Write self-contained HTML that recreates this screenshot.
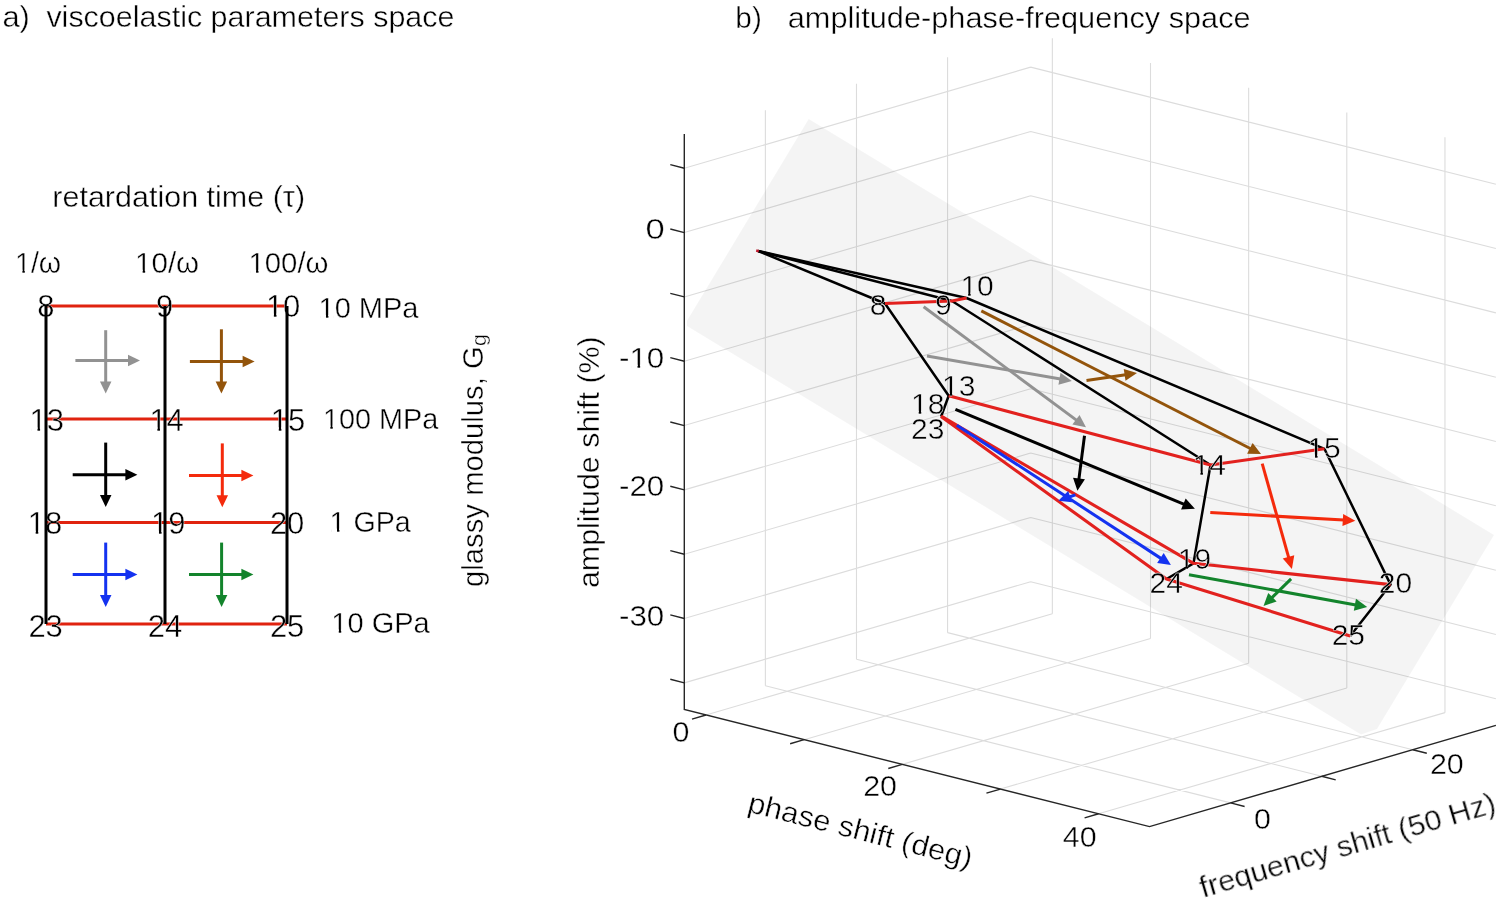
<!DOCTYPE html>
<html><head><meta charset="utf-8"><style>
html,body{margin:0;padding:0;background:#fff;overflow:hidden;width:1500px;height:902px;}
svg{display:block;will-change:transform;}
text{font-family:"Liberation Sans", sans-serif;stroke:#fff;stroke-width:0.4px;paint-order:normal;}
</style></head><body>
<svg width="1500" height="902" viewBox="0 0 1500 902">
<defs><mask id="m1" maskUnits="userSpaceOnUse" x="0" y="0" width="1500" height="902"><rect width="1500" height="902" fill="#fff"/><rect x="267.72" y="313.60" width="6.16" height="4.70" fill="#000"/><rect x="276.48" y="313.60" width="5.77" height="4.70" fill="#000"/><rect x="31.32" y="427.40" width="6.16" height="4.70" fill="#000"/><rect x="40.08" y="427.40" width="5.77" height="4.70" fill="#000"/><rect x="151.22" y="427.20" width="6.16" height="4.70" fill="#000"/><rect x="159.98" y="427.20" width="5.77" height="4.70" fill="#000"/><rect x="272.62" y="427.20" width="6.16" height="4.70" fill="#000"/><rect x="281.38" y="427.20" width="5.77" height="4.70" fill="#000"/><rect x="29.52" y="530.70" width="6.16" height="4.70" fill="#000"/><rect x="38.28" y="530.70" width="5.77" height="4.70" fill="#000"/><rect x="152.82" y="530.70" width="6.16" height="4.70" fill="#000"/><rect x="161.58" y="530.70" width="5.77" height="4.70" fill="#000"/><rect x="16.71" y="269.76" width="5.69" height="4.54" fill="#000"/><rect x="24.80" y="269.76" width="5.32" height="4.54" fill="#000"/><rect x="136.79" y="269.76" width="5.87" height="4.54" fill="#000"/><rect x="145.15" y="269.76" width="5.50" height="4.54" fill="#000"/><rect x="250.20" y="269.76" width="5.84" height="4.54" fill="#000"/><rect x="258.50" y="269.76" width="5.46" height="4.54" fill="#000"/><rect x="320.20" y="314.96" width="5.77" height="4.54" fill="#000"/><rect x="328.40" y="314.96" width="5.40" height="4.54" fill="#000"/><rect x="324.60" y="425.56" width="5.74" height="4.54" fill="#000"/><rect x="332.76" y="425.56" width="5.37" height="4.54" fill="#000"/><rect x="331.30" y="528.56" width="5.70" height="4.54" fill="#000"/><rect x="339.40" y="528.56" width="5.33" height="4.54" fill="#000"/><rect x="333.00" y="629.36" width="5.77" height="4.54" fill="#000"/><rect x="341.22" y="629.36" width="5.40" height="4.54" fill="#000"/><rect x="631.28" y="364.76" width="6.23" height="4.54" fill="#000"/><rect x="640.14" y="364.76" width="5.83" height="4.54" fill="#000"/><rect x="962.16" y="292.58" width="5.96" height="4.62" fill="#000"/><rect x="970.64" y="292.58" width="5.58" height="4.62" fill="#000"/><rect x="943.76" y="392.88" width="5.96" height="4.62" fill="#000"/><rect x="952.24" y="392.88" width="5.58" height="4.62" fill="#000"/><rect x="912.76" y="410.78" width="5.96" height="4.62" fill="#000"/><rect x="921.24" y="410.78" width="5.58" height="4.62" fill="#000"/><rect x="1194.46" y="471.28" width="5.96" height="4.62" fill="#000"/><rect x="1202.94" y="471.28" width="5.58" height="4.62" fill="#000"/><rect x="1309.06" y="454.48" width="5.96" height="4.62" fill="#000"/><rect x="1317.54" y="454.48" width="5.58" height="4.62" fill="#000"/><rect x="1179.56" y="565.78" width="5.96" height="4.62" fill="#000"/><rect x="1188.04" y="565.78" width="5.58" height="4.62" fill="#000"/></mask></defs>
<rect width="1500" height="902" fill="#fff"/>
<path d="M765.38 685.83L765.38 110.37 M856.48 659.23L856.48 83.77 M947.58 632.63L947.58 57.17 M684.30 168.27L1030.66 67.14 M684.30 232.59L1030.66 131.46 M684.30 296.92L1030.66 195.79 M684.30 361.24L1030.66 260.11 M684.30 425.57L1030.66 324.44 M684.30 489.89L1030.66 388.76 M684.30 554.22L1030.66 453.09 M684.30 618.54L1030.66 517.41 M684.30 682.87L1030.66 581.74 M1052.35 613.83L1052.35 38.37 M1150.50 638.53L1150.50 63.07 M1248.65 663.23L1248.65 87.77 M1346.80 687.93L1346.80 112.47 M1444.95 712.63L1444.95 137.17 M1030.66 67.14L1495.89 184.21 M1030.66 131.46L1495.89 248.54 M1030.66 195.79L1495.89 312.86 M1030.66 260.11L1495.89 377.19 M1030.66 324.44L1495.89 441.51 M1030.66 388.76L1495.89 505.84 M1030.66 453.09L1495.89 570.16 M1030.66 517.41L1495.89 634.49 M1030.66 581.74L1495.89 698.81 M705.99 714.96L1052.35 613.83 M804.14 739.66L1150.50 638.53 M902.29 764.36L1248.65 663.23 M1000.44 789.06L1346.80 687.93 M1098.59 813.76L1444.95 712.63 M765.38 685.83L1230.61 802.90 M856.48 659.23L1321.71 776.30 M947.58 632.63L1412.81 749.70" stroke="#dcdcdc" stroke-width="1.1" fill="none"/>
<polygon points="808.7,119.0 1494.0,535.0 1377.0,729.0 1361.0,734.6 687.0,326.0 687.0,320.8" fill="#000" fill-opacity="0.045"/>
<path d="M684.30 134.05L684.30 709.50L1149.53 826.58L1495.89 725.44" stroke="#262626" stroke-width="1.4" fill="none"/>
<path d="M684.30 168.27l-14 -3.6 M684.30 232.59l-14 -3.6 M684.30 296.92l-14 -3.6 M684.30 361.24l-14 -3.6 M684.30 425.57l-14 -3.6 M684.30 489.89l-14 -3.6 M684.30 554.22l-14 -3.6 M684.30 618.54l-14 -3.6 M684.30 682.87l-14 -3.6 M705.99 714.96l-14 4.1 M804.14 739.66l-14 4.1 M902.29 764.36l-14 4.1 M1000.44 789.06l-14 4.1 M1098.59 813.76l-14 4.1 M1230.61 802.90l14 3.6 M1321.71 776.30l14 3.6 M1412.81 749.70l14 3.6" stroke="#262626" stroke-width="1.4" fill="none"/>
<polyline points="758.20,251.00 885.00,303.50" stroke="#000" stroke-width="2.5" fill="none" stroke-linejoin="round"/>
<polyline points="758.20,251.00 952.00,301.00" stroke="#000" stroke-width="2.5" fill="none" stroke-linejoin="round"/>
<polyline points="758.20,251.00 966.50,298.00" stroke="#000" stroke-width="2.5" fill="none" stroke-linejoin="round"/>
<polyline points="885.00,303.50 948.70,395.80 941.20,416.20 941.00,416.60" stroke="#000" stroke-width="2.5" fill="none" stroke-linejoin="round"/>
<polyline points="952.00,301.00 1210.50,465.00 1193.50,563.30 1166.50,579.00" stroke="#000" stroke-width="2.5" fill="none" stroke-linejoin="round"/>
<polyline points="966.50,298.00 1324.40,448.80 1390.60,584.60 1350.20,636.00" stroke="#000" stroke-width="2.5" fill="none" stroke-linejoin="round"/>
<polyline points="885.00,303.50 952.00,301.00 966.50,298.00" stroke="#e2211e" stroke-width="3.1" fill="none" stroke-linejoin="round"/>
<polyline points="948.70,395.80 1210.50,465.00 1324.40,448.80" stroke="#e2211e" stroke-width="3.1" fill="none" stroke-linejoin="round"/>
<polyline points="941.20,416.20 1193.50,563.30 1390.60,584.60" stroke="#e2211e" stroke-width="3.1" fill="none" stroke-linejoin="round"/>
<polyline points="941.00,416.60 1166.50,579.00 1350.20,636.00" stroke="#e2211e" stroke-width="3.1" fill="none" stroke-linejoin="round"/>
<line x1="756.2" y1="250.5" x2="758.8000000000001" y2="251.2" stroke="#c0182c" stroke-width="2.6"/>
<line x1="927.00" y1="356.00" x2="1060.47" y2="378.95" stroke="#929292" stroke-width="3.0"/><polygon points="1071.80,380.90 1058.46,384.69 1060.50,372.87" fill="#929292"/>
<line x1="923.60" y1="306.70" x2="1076.76" y2="420.35" stroke="#929292" stroke-width="3.0"/><polygon points="1086.00,427.20 1072.39,424.57 1079.54,414.93" fill="#929292"/>
<line x1="981.30" y1="310.80" x2="1250.76" y2="448.76" stroke="#93540b" stroke-width="3.0"/><polygon points="1261.00,454.00 1247.14,453.64 1252.61,442.96" fill="#93540b"/>
<line x1="1086.50" y1="380.50" x2="1125.62" y2="374.77" stroke="#93540b" stroke-width="3.0"/><polygon points="1137.00,373.10 1125.50,380.85 1123.76,368.98" fill="#93540b"/>
<line x1="955.40" y1="409.40" x2="1184.28" y2="504.39" stroke="#000" stroke-width="3.0"/><polygon points="1194.90,508.80 1181.05,509.55 1185.65,498.47" fill="#000"/>
<line x1="1084.50" y1="435.80" x2="1078.87" y2="479.39" stroke="#000" stroke-width="3.0"/><polygon points="1077.40,490.80 1073.05,477.63 1084.95,479.17" fill="#000"/>
<line x1="1262.20" y1="463.60" x2="1288.78" y2="557.93" stroke="#f42a0c" stroke-width="3.0"/><polygon points="1291.90,569.00 1282.73,558.60 1294.28,555.34" fill="#f42a0c"/>
<line x1="1210.30" y1="512.50" x2="1343.82" y2="520.05" stroke="#f42a0c" stroke-width="3.0"/><polygon points="1355.30,520.70 1342.48,525.98 1343.16,514.00" fill="#f42a0c"/>
<line x1="956.80" y1="425.20" x2="1161.27" y2="558.62" stroke="#1432f0" stroke-width="3.0"/><polygon points="1170.90,564.90 1157.15,563.09 1163.71,553.04" fill="#1432f0"/>
<line x1="1075.40" y1="494.90" x2="1069.19" y2="497.01" stroke="#1432f0" stroke-width="3.0"/><polygon points="1058.30,500.70 1068.21,491.00 1072.06,502.37" fill="#1432f0"/>
<line x1="1189.00" y1="574.70" x2="1355.88" y2="604.95" stroke="#13842c" stroke-width="3.0"/><polygon points="1367.20,607.00 1353.83,610.67 1355.97,598.87" fill="#13842c"/>
<line x1="1291.10" y1="578.90" x2="1271.71" y2="597.94" stroke="#13842c" stroke-width="3.0"/><polygon points="1263.50,606.00 1268.22,592.96 1276.62,601.52" fill="#13842c"/>
<line x1="46.0" y1="306.0" x2="287.0" y2="306.0" stroke="#e0230f" stroke-width="3.2"/>
<line x1="46.0" y1="419.0" x2="287.0" y2="419.0" stroke="#e0230f" stroke-width="3.2"/>
<line x1="46.0" y1="522.5" x2="287.0" y2="522.5" stroke="#e0230f" stroke-width="3.2"/>
<line x1="46.0" y1="624.0" x2="287.0" y2="624.0" stroke="#e0230f" stroke-width="3.2"/>
<g mask="url(#m1)"><text x="37.20" y="317.10" font-size="31" textLength="17.23" lengthAdjust="spacingAndGlyphs" fill="#000">8</text>
<text x="156.00" y="317.10" font-size="31" textLength="17.23" lengthAdjust="spacingAndGlyphs" fill="#000">9</text>
<text x="265.90" y="317.10" font-size="31" textLength="34.47" lengthAdjust="spacingAndGlyphs" fill="#000">10</text>
<text x="29.50" y="430.90" font-size="31" textLength="34.47" lengthAdjust="spacingAndGlyphs" fill="#000">13</text>
<text x="149.40" y="430.70" font-size="31" textLength="34.47" lengthAdjust="spacingAndGlyphs" fill="#000">14</text>
<text x="270.80" y="430.70" font-size="31" textLength="34.47" lengthAdjust="spacingAndGlyphs" fill="#000">15</text>
<text x="27.70" y="534.20" font-size="31" textLength="34.47" lengthAdjust="spacingAndGlyphs" fill="#000">18</text>
<text x="151.00" y="534.20" font-size="31" textLength="34.47" lengthAdjust="spacingAndGlyphs" fill="#000">19</text>
<text x="269.90" y="534.20" font-size="31" textLength="34.47" lengthAdjust="spacingAndGlyphs" fill="#000">20</text>
<text x="28.40" y="636.80" font-size="31" textLength="34.47" lengthAdjust="spacingAndGlyphs" fill="#000">23</text>
<text x="147.80" y="636.80" font-size="31" textLength="34.47" lengthAdjust="spacingAndGlyphs" fill="#000">24</text>
<text x="269.90" y="636.80" font-size="31" textLength="34.47" lengthAdjust="spacingAndGlyphs" fill="#000">25</text></g>
<line x1="46.0" y1="306.0" x2="46.0" y2="624.0" stroke="#000" stroke-width="3"/>
<line x1="165.0" y1="306.0" x2="165.0" y2="624.0" stroke="#000" stroke-width="3"/>
<line x1="287.0" y1="306.0" x2="287.0" y2="624.0" stroke="#000" stroke-width="3"/>
<line x1="75.40" y1="360.50" x2="129.00" y2="360.50" stroke="#929292" stroke-width="3.0"/><polygon points="140.00,360.50 128.00,366.25 128.00,354.75" fill="#929292"/>
<line x1="105.70" y1="330.20" x2="105.70" y2="382.50" stroke="#929292" stroke-width="3.0"/><polygon points="105.70,393.50 99.95,381.50 111.45,381.50" fill="#929292"/>
<line x1="189.90" y1="361.40" x2="243.60" y2="361.40" stroke="#93540b" stroke-width="3.0"/><polygon points="254.60,361.40 242.60,367.15 242.60,355.65" fill="#93540b"/>
<line x1="221.40" y1="329.30" x2="221.40" y2="382.60" stroke="#93540b" stroke-width="3.0"/><polygon points="221.40,393.60 215.65,381.60 227.15,381.60" fill="#93540b"/>
<line x1="72.70" y1="474.80" x2="126.40" y2="474.80" stroke="#000" stroke-width="3.0"/><polygon points="137.40,474.80 125.40,480.55 125.40,469.05" fill="#000"/>
<line x1="105.70" y1="442.60" x2="105.70" y2="495.90" stroke="#000" stroke-width="3.0"/><polygon points="105.70,506.90 99.95,494.90 111.45,494.90" fill="#000"/>
<line x1="189.00" y1="475.40" x2="242.40" y2="475.40" stroke="#f42a0c" stroke-width="3.0"/><polygon points="253.40,475.40 241.40,481.15 241.40,469.65" fill="#f42a0c"/>
<line x1="222.30" y1="443.40" x2="222.30" y2="496.30" stroke="#f42a0c" stroke-width="3.0"/><polygon points="222.30,507.30 216.55,495.30 228.05,495.30" fill="#f42a0c"/>
<line x1="72.70" y1="574.50" x2="126.40" y2="574.50" stroke="#1432f0" stroke-width="3.0"/><polygon points="137.40,574.50 125.40,580.25 125.40,568.75" fill="#1432f0"/>
<line x1="105.70" y1="542.60" x2="105.70" y2="595.90" stroke="#1432f0" stroke-width="3.0"/><polygon points="105.70,606.90 99.95,594.90 111.45,594.90" fill="#1432f0"/>
<line x1="189.00" y1="574.50" x2="242.40" y2="574.50" stroke="#13842c" stroke-width="3.0"/><polygon points="253.40,574.50 241.40,580.25 241.40,568.75" fill="#13842c"/>
<line x1="221.60" y1="542.60" x2="221.60" y2="595.90" stroke="#13842c" stroke-width="3.0"/><polygon points="221.60,606.90 215.85,594.90 227.35,594.90" fill="#13842c"/>
<g mask="url(#m1)">
<text x="2.43" y="27.20" font-size="29" textLength="27.46" lengthAdjust="spacingAndGlyphs" fill="#000" >a)</text>
<text x="46.40" y="27.20" font-size="29" textLength="408.08" lengthAdjust="spacingAndGlyphs" fill="#000" >viscoelastic parameters space</text>
<text x="52.30" y="207.40" font-size="29" textLength="252.77" lengthAdjust="spacingAndGlyphs" fill="#000" >retardation time (τ)</text>
<text x="15.03" y="273.10" font-size="29" textLength="46.17" lengthAdjust="spacingAndGlyphs" fill="#000" >1/ω</text>
<text x="135.06" y="273.10" font-size="29" textLength="64.13" lengthAdjust="spacingAndGlyphs" fill="#000" >10/ω</text>
<text x="248.48" y="273.10" font-size="29" textLength="80.03" lengthAdjust="spacingAndGlyphs" fill="#000" >100/ω</text>
<text x="318.50" y="318.30" font-size="29" textLength="99.94" lengthAdjust="spacingAndGlyphs" fill="#000" >10 MPa</text>
<text x="322.91" y="428.90" font-size="29" textLength="115.45" lengthAdjust="spacingAndGlyphs" fill="#000" >100 MPa</text>
<text x="329.62" y="531.90" font-size="29" textLength="81.19" lengthAdjust="spacingAndGlyphs" fill="#000" >1 GPa</text>
<text x="331.30" y="632.70" font-size="29" textLength="98.45" lengthAdjust="spacingAndGlyphs" fill="#000" >10 GPa</text>
<g transform="translate(483.20,586.00) rotate(-90.000)"><text x="-0.98" y="0" font-size="30" textLength="240.77" lengthAdjust="spacingAndGlyphs" fill="#000">glassy modulus, G</text></g>
<g transform="translate(486.00,345.00) rotate(-90.000)"><text x="-1.07" y="0" font-size="20" textLength="11.87" lengthAdjust="spacingAndGlyphs" fill="#000">g</text></g>
<text x="735.35" y="27.80" font-size="29" textLength="26.48" lengthAdjust="spacingAndGlyphs" fill="#000" >b)</text>
<text x="787.74" y="27.80" font-size="29" textLength="462.92" lengthAdjust="spacingAndGlyphs" fill="#000" >amplitude-phase-frequency space</text>
<text x="645.41" y="238.90" font-size="29" textLength="19.23" lengthAdjust="spacingAndGlyphs" fill="#000" >0</text>
<text x="619.02" y="368.10" font-size="29" textLength="45.26" lengthAdjust="spacingAndGlyphs" fill="#000" >-10</text>
<text x="619.02" y="496.20" font-size="29" textLength="45.26" lengthAdjust="spacingAndGlyphs" fill="#000" >-20</text>
<text x="619.02" y="625.70" font-size="29" textLength="45.26" lengthAdjust="spacingAndGlyphs" fill="#000" >-30</text>
<text x="672.60" y="741.50" font-size="29" textLength="16.93" lengthAdjust="spacingAndGlyphs" fill="#000">0</text>
<text x="863.20" y="796.40" font-size="29" textLength="33.86" lengthAdjust="spacingAndGlyphs" fill="#000">20</text>
<text x="1062.80" y="847.00" font-size="29" textLength="33.86" lengthAdjust="spacingAndGlyphs" fill="#000">40</text>
<text x="1254.10" y="829.30" font-size="29" textLength="16.93" lengthAdjust="spacingAndGlyphs" fill="#000">0</text>
<text x="1429.90" y="773.70" font-size="29" textLength="33.86" lengthAdjust="spacingAndGlyphs" fill="#000">20</text>
<g transform="translate(599.00,587.00) rotate(-90.000)"><text x="-1.05" y="0" font-size="29" textLength="251.78" lengthAdjust="spacingAndGlyphs" fill="#000">amplitude shift (%)</text></g>
<g transform="translate(748.50,812.00) rotate(14.200)"><text x="-2.13" y="0" font-size="29" textLength="230.26" lengthAdjust="spacingAndGlyphs" fill="#000">phase shift (deg)</text></g>
<g transform="translate(1203.00,898.00) rotate(-16.300)"><text x="-0.00" y="0" font-size="29" textLength="306.81" lengthAdjust="spacingAndGlyphs" fill="#000">frequency shift (50 Hz)</text></g>
<text x="869.80" y="314.90" font-size="30" textLength="16.69" lengthAdjust="spacingAndGlyphs" fill="#000">8</text>
<text x="935.00" y="314.90" font-size="30" textLength="16.69" lengthAdjust="spacingAndGlyphs" fill="#000">9</text>
<text x="960.40" y="296.00" font-size="30" textLength="33.38" lengthAdjust="spacingAndGlyphs" fill="#000">10</text>
<text x="942.00" y="396.30" font-size="30" textLength="33.38" lengthAdjust="spacingAndGlyphs" fill="#000">13</text>
<text x="911.00" y="414.20" font-size="30" textLength="33.38" lengthAdjust="spacingAndGlyphs" fill="#000">18</text>
<text x="911.00" y="439.10" font-size="30" textLength="33.38" lengthAdjust="spacingAndGlyphs" fill="#000">23</text>
<text x="1192.70" y="474.70" font-size="30" textLength="33.38" lengthAdjust="spacingAndGlyphs" fill="#000">14</text>
<text x="1307.30" y="457.90" font-size="30" textLength="33.38" lengthAdjust="spacingAndGlyphs" fill="#000">15</text>
<text x="1177.80" y="569.20" font-size="30" textLength="33.38" lengthAdjust="spacingAndGlyphs" fill="#000">19</text>
<text x="1378.80" y="592.80" font-size="30" textLength="33.38" lengthAdjust="spacingAndGlyphs" fill="#000">20</text>
<text x="1149.50" y="593.20" font-size="30" textLength="33.38" lengthAdjust="spacingAndGlyphs" fill="#000">24</text>
<text x="1331.70" y="645.10" font-size="30" textLength="33.38" lengthAdjust="spacingAndGlyphs" fill="#000">25</text>
</g>
</svg>
</body></html>
